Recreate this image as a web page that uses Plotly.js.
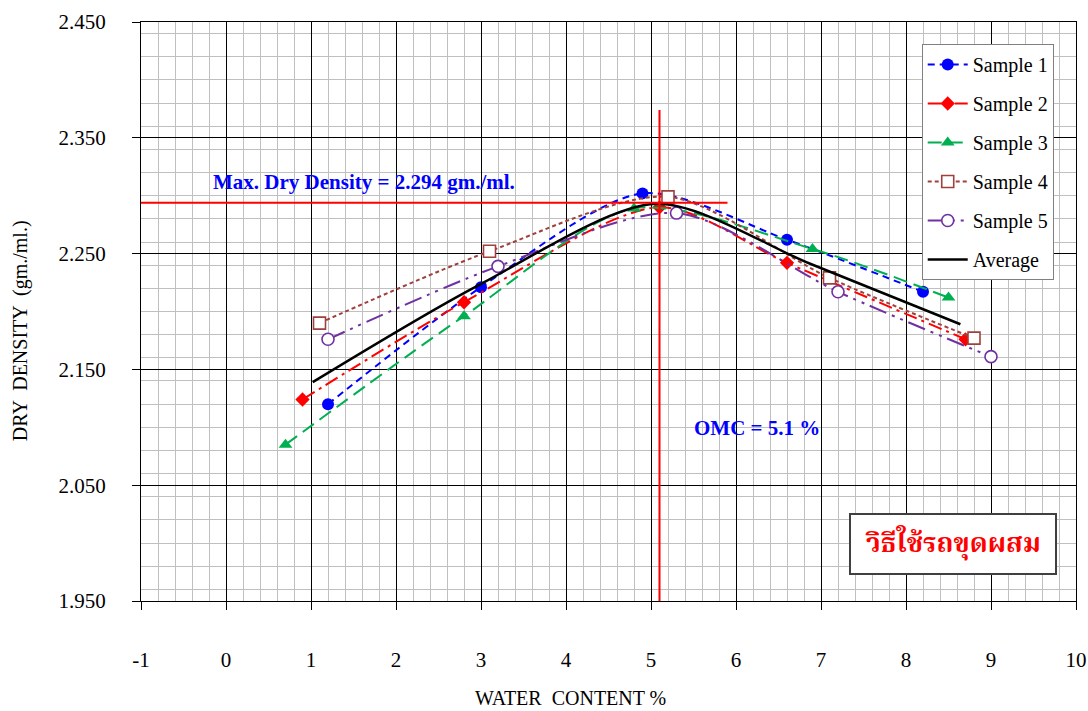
<!DOCTYPE html>
<html>
<head>
<meta charset="utf-8">
<script src="https://cdn.plot.ly/plotly-3.0.1.min.js"></script>
<style>html,body{margin:0;padding:0;background:#fff;}#chart{width:1088px;height:711px;}</style>
</head>
<body>
<div id="chart"></div>
<script>
// ---- data ----
const seriesNames = ["Sample 1", "Sample 2", "Sample 3", "Sample 4", "Sample 5", "Average"];
const s1x = [1.2, 3.0, 4.9, 6.6, 8.2];
const s1y = [2.120, 2.221, 2.302, 2.262, 2.217];
const s2x = [0.9, 2.8, 5.1, 6.6, 8.7];
const s2y = [2.124, 2.208, 2.290, 2.242, 2.176];
const s3x = [0.7, 2.8, 4.8, 6.9, 8.5];
const s3y = [2.085, 2.196, 2.289, 2.254, 2.212];
const s4x = [1.1, 3.1, 5.2, 7.1, 8.8];
const s4y = [2.190, 2.252, 2.299, 2.229, 2.177];
const s5x = [1.2, 3.2, 5.3, 7.2, 9.0];
const s5y = [2.176, 2.239, 2.285, 2.217, 2.161];
const avgX = [1.02, 2.98, 5.06, 6.88, 8.64];
const avgY = [2.139, 2.223, 2.293, 2.241, 2.189];
const maxDryDensity = 2.294;
const omc = 5.1;
const hLineEndX = 5.9;
const vLineTopY = 2.374;
const xTickVals = [-1, 0, 1, 2, 3, 4, 5, 6, 7, 8, 9, 10];
const xTickText = ["-1", "0", "1", "2", "3", "4", "5", "6", "7", "8", "9", "10"];
const yTickVals = [1.95, 2.05, 2.15, 2.25, 2.35, 2.45];
const yTickText = ["1.950", "2.050", "2.150", "2.250", "2.350", "2.450"];
const xTitle = "WATER  CONTENT %";
const yTitle = "DRY  DENSITY  (gm./ml.)";
const maxLabel = "Max. Dry Density = 2.294 gm./ml.";
const omcLabel = "OMC = 5.1 %";
const methodLabel = "วิธีใช้รถขุดผสม";

const serif = "Liberation Serif, Times New Roman, serif";

function tr(x, y, i, color, dash, symbol, msize, openMarker) {
  return {
    x: x, y: y, type: "scatter", mode: "lines+markers", name: seriesNames[i],
    legendgroup: "g" + i,
    line: {color: color, dash: dash, width: 2, shape: "spline", smoothing: 0.8},
    marker: openMarker
      ? {symbol: symbol, size: msize, color: "#ffffff", line: {color: color, width: 1.6}}
      : {symbol: symbol, size: msize, color: color, line: {width: 0}}
  };
}

const traces = [
  tr(s1x, s1y, 0, "#0000FF", "7px,5px", "circle", 12, false),
  tr(s2x, s2y, 1, "#FF0000", "14px,5px,3px,5px", "diamond", 11, false),
  tr(s3x, s3y, 2, "#00B050", "14px,7px", "triangle-up", 12, false),
  tr(s4x, s4y, 3, "#A0403C", "4px,3px", "square", 12, true),
  tr(s5x, s5y, 4, "#7030A0", "18px,6px,3px,6px,3px,6px", "circle", 12, true),
  {x: avgX, y: avgY, type: "scatter", mode: "lines", name: seriesNames[5], legendgroup: "g5",
   line: {color: "#000000", width: 2.5, shape: "spline", smoothing: 0.8}}
];

const layout = {
  width: 1088, height: 711,
  margin: {l: 141, r: 12, t: 22, b: 110},
  paper_bgcolor: "#ffffff", plot_bgcolor: "#ffffff",
  font: {family: serif, size: 20, color: "#000"},
  showlegend: true,
  legend: {
    x: 0.835, y: 0.962, xanchor: "left", yanchor: "top",
    bgcolor: "#ffffff", bordercolor: "#808080", borderwidth: 1,
    font: {family: serif, size: 20, color: "#000"},
    traceorder: "grouped", tracegroupgap: 10, itemwidth: 40
  },
  xaxis: {
    range: [-1, 10], tickvals: xTickVals, ticktext: xTickText, ticks: "outside", ticklen: 8, tickcolor: "#000",
    ticklabelstandoff: 32,
    showgrid: true, gridcolor: "#000", gridwidth: 1,
    zeroline: false, showline: true, linecolor: "#000", linewidth: 1, mirror: true,
    minor: {dtick: 0.2, showgrid: true, gridcolor: "#c0c0c0", gridwidth: 1, ticks: ""},
    tickfont: {family: serif, size: 21, color: "#000"},
    fixedrange: true
  },
  yaxis: {
    range: [1.95, 2.45], tickvals: yTickVals, ticktext: yTickText, ticks: "outside", ticklen: 8, tickcolor: "#000",
    ticklabelstandoff: 22,
    showgrid: true, gridcolor: "#000", gridwidth: 1,
    zeroline: false, showline: true, linecolor: "#000", linewidth: 1, mirror: true,
    minor: {dtick: 0.02, showgrid: true, gridcolor: "#c0c0c0", gridwidth: 1, ticks: ""},
    tickfont: {family: serif, size: 21, color: "#000"},
    fixedrange: true
  },
  shapes: [
    {type: "line", xref: "x", yref: "y", x0: -1, x1: hLineEndX, y0: maxDryDensity, y1: maxDryDensity,
     line: {color: "#FF0000", width: 2}},
    {type: "line", xref: "x", yref: "y", x0: omc, x1: omc, y0: 1.95, y1: vLineTopY,
     line: {color: "#FF0000", width: 2}}
  ],
  annotations: [
    {xref: "paper", yref: "paper", x: 0.459, y: 0, yshift: -97, xanchor: "center", yanchor: "middle",
     showarrow: false, text: xTitle, font: {family: serif, size: 20, color: "#000"}},
    {xref: "paper", yref: "paper", x: 0, xshift: -121, y: 0.466, xanchor: "center", yanchor: "middle",
     showarrow: false, textangle: -90, text: yTitle, font: {family: serif, size: 20, color: "#000"}},
    {xref: "x", yref: "y", x: -0.18, y: 2.3, xanchor: "left", yanchor: "bottom", showarrow: false,
     text: "<b>" + maxLabel + "</b>", font: {family: serif, size: 21, color: "#0000FF"}},
    {xref: "x", yref: "y", x: 6.25, y: 2.0995, xanchor: "center", yanchor: "middle", showarrow: false,
     text: "<b>" + omcLabel + "</b>", font: {family: serif, size: 21, color: "#0000FF"}},
    {xref: "x", yref: "y", x: 8.55, y: 1.999, xanchor: "center", yanchor: "middle", showarrow: false,
     text: "<b>" + methodLabel + "</b>", width: 200, height: 54, borderpad: 2,
     bgcolor: "#ffffff", bordercolor: "#404040", borderwidth: 2,
     font: {family: "Noto Serif Thai, Noto Sans Thai, Loma, Tahoma, Liberation Serif, serif", size: 27, color: "#FF0000"}}
  ]
};

Plotly.newPlot("chart", traces, layout, {displayModeBar: false, staticPlot: true});
</script>
</body>
</html>
